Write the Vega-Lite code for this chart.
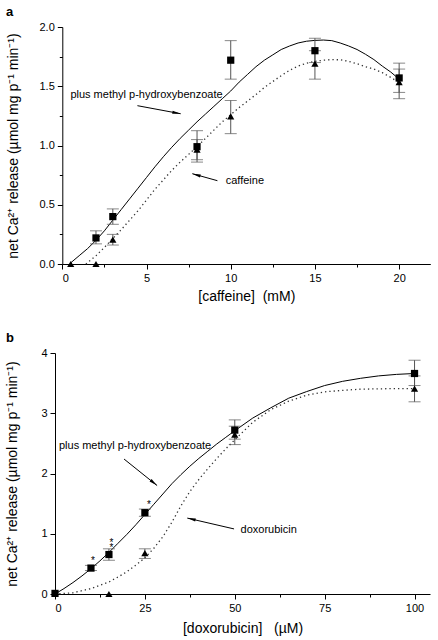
{
  "$schema": "https://vega.github.io/schema/vega-lite/v6.json",
  "background": "white",
  "padding": {"left": 5, "top": 6, "right": 4, "bottom": 4},
  "spacing": 29,
  "config": {
    "view": {"stroke": null},
    "font": "Liberation Sans",
    "axis": {
      "domainColor": "black", "tickColor": "black", "labelColor": "black", "titleColor": "black",
      "labelFont": "Liberation Sans", "titleFont": "Liberation Sans",
      "labelFontSize": 11, "titleFontSize": 14, "titleFontWeight": "normal",
      "grid": false, "labelPadding": 3, "tickSize": 5, "domainWidth": 1, "tickWidth": 1
    },
    "title": {"font": "Liberation Sans", "color": "black"}
  },
  "datasets": {
    "a_pts": [
      {"x": 0.5, "y": 0, "s": "drug"},
      {"x": 2, "y": 0, "s": "drug"},
      {"x": 3, "y": 0.205, "lo": 0.16, "hi": 0.25, "s": "drug"},
      {"x": 8, "y": 0.965, "lo": 0.88, "hi": 1.05, "s": "drug"},
      {"x": 10, "y": 1.245, "lo": 1.10, "hi": 1.38, "s": "drug"},
      {"x": 15, "y": 1.69, "lo": 1.56, "hi": 1.80, "s": "drug"},
      {"x": 20, "y": 1.535, "lo": 1.395, "hi": 1.645, "s": "drug"},
      {"x": 2, "y": 0.22, "lo": 0.17, "hi": 0.28, "s": "plus"},
      {"x": 3, "y": 0.40, "lo": 0.335, "hi": 0.465, "s": "plus"},
      {"x": 8, "y": 0.99, "lo": 0.86, "hi": 1.125, "s": "plus"},
      {"x": 10, "y": 1.72, "lo": 1.56, "hi": 1.885, "s": "plus"},
      {"x": 15, "y": 1.80, "lo": 1.70, "hi": 1.905, "s": "plus"},
      {"x": 20, "y": 1.57, "lo": 1.448, "hi": 1.695, "s": "plus"}
    ],
    "a_sol": [
      {"x": 0.5, "y": 0.01}, {"x": 1, "y": 0.07}, {"x": 1.5, "y": 0.13}, {"x": 2, "y": 0.2},
      {"x": 2.5, "y": 0.28}, {"x": 3, "y": 0.37}, {"x": 3.5, "y": 0.46}, {"x": 4, "y": 0.55},
      {"x": 4.5, "y": 0.64}, {"x": 5, "y": 0.73}, {"x": 5.5, "y": 0.82}, {"x": 6, "y": 0.905},
      {"x": 6.5, "y": 0.985}, {"x": 7, "y": 1.06}, {"x": 7.5, "y": 1.13}, {"x": 8, "y": 1.2},
      {"x": 8.5, "y": 1.265}, {"x": 9, "y": 1.33}, {"x": 9.5, "y": 1.395}, {"x": 10, "y": 1.46},
      {"x": 10.5, "y": 1.535}, {"x": 11, "y": 1.6}, {"x": 11.5, "y": 1.665}, {"x": 12, "y": 1.72},
      {"x": 12.5, "y": 1.765}, {"x": 13, "y": 1.81}, {"x": 13.5, "y": 1.84}, {"x": 14, "y": 1.865},
      {"x": 14.5, "y": 1.88}, {"x": 15, "y": 1.887}, {"x": 15.5, "y": 1.89}, {"x": 16, "y": 1.885},
      {"x": 16.5, "y": 1.865}, {"x": 17, "y": 1.84}, {"x": 17.5, "y": 1.81}, {"x": 18, "y": 1.77},
      {"x": 18.5, "y": 1.725}, {"x": 19, "y": 1.67}, {"x": 19.5, "y": 1.62}, {"x": 20, "y": 1.56}
    ],
    "a_dot": [
      {"x": 1.4, "y": 0.0}, {"x": 2, "y": 0.07}, {"x": 2.5, "y": 0.14}, {"x": 3, "y": 0.215},
      {"x": 3.5, "y": 0.29}, {"x": 4, "y": 0.37}, {"x": 4.5, "y": 0.45}, {"x": 5, "y": 0.54},
      {"x": 5.5, "y": 0.63}, {"x": 6, "y": 0.71}, {"x": 6.5, "y": 0.79}, {"x": 7, "y": 0.86},
      {"x": 7.5, "y": 0.925}, {"x": 8, "y": 0.99}, {"x": 8.5, "y": 1.06}, {"x": 9, "y": 1.13},
      {"x": 9.5, "y": 1.2}, {"x": 10, "y": 1.26}, {"x": 10.5, "y": 1.32}, {"x": 11, "y": 1.375},
      {"x": 11.5, "y": 1.43}, {"x": 12, "y": 1.49}, {"x": 12.5, "y": 1.54}, {"x": 13, "y": 1.59},
      {"x": 13.5, "y": 1.635}, {"x": 14, "y": 1.67}, {"x": 14.5, "y": 1.695}, {"x": 15, "y": 1.71},
      {"x": 15.5, "y": 1.72}, {"x": 16, "y": 1.725}, {"x": 16.5, "y": 1.723}, {"x": 17, "y": 1.71},
      {"x": 17.5, "y": 1.69}, {"x": 18, "y": 1.665}, {"x": 18.5, "y": 1.645}, {"x": 19, "y": 1.615},
      {"x": 19.5, "y": 1.575}, {"x": 20, "y": 1.53}
    ],
    "a_txt": [
      {"x": 0.48, "y": 1.43, "t": "plus methyl p-hydroxybenzoate"},
      {"x": 9.7, "y": 0.70, "t": "caffeine"}
    ],
    "a_arr": [
      {"id": "plus", "x": 4.46, "y": 1.336, "x2": 7.03, "y2": 1.268},
      {"id": "drug", "x": 9.21, "y": 0.703, "x2": 7.72, "y2": 0.762}
    ],
    "b_pts": [
      {"x": 15, "y": 0, "s": "drug"},
      {"x": 25, "y": 0.68, "lo": 0.59, "hi": 0.75, "s": "drug"},
      {"x": 50, "y": 2.645, "lo": 2.48, "hi": 2.785, "s": "drug"},
      {"x": 100, "y": 3.41, "lo": 3.19, "hi": 3.62, "s": "drug"},
      {"x": 0, "y": 0.01, "s": "plus"},
      {"x": 10, "y": 0.43, "lo": 0.39, "hi": 0.475, "s": "plus"},
      {"x": 15, "y": 0.655, "lo": 0.56, "hi": 0.75, "s": "plus"},
      {"x": 25, "y": 1.35, "lo": 1.29, "hi": 1.41, "s": "plus"},
      {"x": 50, "y": 2.72, "lo": 2.57, "hi": 2.89, "s": "plus"},
      {"x": 100, "y": 3.66, "lo": 3.46, "hi": 3.88, "s": "plus"}
    ],
    "b_sol": [
      {"x": 0, "y": 0}, {"x": 2.5, "y": 0.09}, {"x": 5, "y": 0.19}, {"x": 7.5, "y": 0.3},
      {"x": 10, "y": 0.42}, {"x": 12.5, "y": 0.55}, {"x": 15, "y": 0.69}, {"x": 17.5, "y": 0.84},
      {"x": 20, "y": 0.99}, {"x": 22.5, "y": 1.15}, {"x": 25, "y": 1.32}, {"x": 27.5, "y": 1.49},
      {"x": 30, "y": 1.66}, {"x": 32.5, "y": 1.83}, {"x": 35, "y": 1.98}, {"x": 37.5, "y": 2.12},
      {"x": 40, "y": 2.25}, {"x": 42.5, "y": 2.37}, {"x": 45, "y": 2.49}, {"x": 47.5, "y": 2.6},
      {"x": 50, "y": 2.71}, {"x": 55, "y": 2.92}, {"x": 60, "y": 3.09}, {"x": 65, "y": 3.25},
      {"x": 70, "y": 3.36}, {"x": 75, "y": 3.46}, {"x": 80, "y": 3.53}, {"x": 85, "y": 3.58},
      {"x": 90, "y": 3.62}, {"x": 95, "y": 3.645}, {"x": 100, "y": 3.66}
    ],
    "b_dot": [
      {"x": 0, "y": 0}, {"x": 5, "y": 0.02}, {"x": 10, "y": 0.09}, {"x": 15, "y": 0.2},
      {"x": 17.5, "y": 0.28}, {"x": 20, "y": 0.37}, {"x": 22.5, "y": 0.48}, {"x": 25, "y": 0.6},
      {"x": 27.5, "y": 0.76}, {"x": 30, "y": 0.95}, {"x": 32.5, "y": 1.19}, {"x": 35, "y": 1.46},
      {"x": 37.5, "y": 1.7}, {"x": 40, "y": 1.9}, {"x": 42.5, "y": 2.08}, {"x": 45, "y": 2.25},
      {"x": 47.5, "y": 2.41}, {"x": 50, "y": 2.56}, {"x": 55, "y": 2.85}, {"x": 60, "y": 3.06},
      {"x": 65, "y": 3.2}, {"x": 70, "y": 3.3}, {"x": 75, "y": 3.355}, {"x": 80, "y": 3.38},
      {"x": 85, "y": 3.4}, {"x": 90, "y": 3.405}, {"x": 95, "y": 3.41}, {"x": 100, "y": 3.41}
    ],
    "b_txt": [
      {"x": 1.1, "y": 2.45, "t": "plus methyl p-hydroxybenzoate"},
      {"x": 51.6, "y": 1.07, "t": "doxorubicin"}
    ],
    "b_arr": [
      {"id": "plus", "x": 19.2, "y": 2.24, "x2": 28.4, "y2": 1.80},
      {"id": "drug", "x": 49.8, "y": 1.08, "x2": 36.8, "y2": 1.26}
    ],
    "b_star": [
      {"x": 10.56, "y": 0.49, "t": "*"},
      {"x": 15.7, "y": 0.8, "t": "*\n*"},
      {"x": 26.1, "y": 1.425, "t": "*"}
    ]
  },
  "vconcat": [
    {
      "title": {"text": "a", "anchor": "start", "frame": "bounds", "fontSize": 13, "fontWeight": "bold", "offset": 2},
      "width": 375,
      "height": 237,
      "encoding": {
        "x": {
          "field": "x", "type": "quantitative",
          "scale": {"domain": [0, 21.85], "range": [7.3, 375.3], "nice": false, "zero": false},
          "axis": {
            "title": "[caffeine]\u00a0\u00a0(mM)",
            "values": [0, 2.5, 5, 7.5, 10, 12.5, 15, 17.5, 20],
            "labelExpr": "datum.value % 5 == 0 ? datum.label : ''",
            "tickSize": {"condition": {"test": "datum.value % 5 != 0", "value": 3}, "value": 5},
            "titlePadding": 6
          }
        },
        "y": {
          "field": "y", "type": "quantitative",
          "scale": {"domain": [0, 2], "nice": false},
          "axis": {
            "title": "net Ca²⁺ release (µmol mg p⁻¹ min⁻¹)",
            "values": [0, 0.25, 0.5, 0.75, 1, 1.25, 1.5, 1.75, 2],
            "format": ".1f",
            "offset": -7.3,
            "labelExpr": "datum.value % 0.5 == 0 ? datum.label : ''",
            "tickSize": {"condition": {"test": "datum.value % 0.5 != 0", "value": 3}, "value": 5},
            "titlePadding": 19
          }
        }
      },
      "layer": [
        {"data": {"name": "a_dot"}, "mark": {"type": "line", "stroke": "#333", "strokeWidth": 1.3, "strokeDash": [1.3, 3]}},
        {"data": {"name": "a_sol"}, "mark": {"type": "line", "stroke": "black", "strokeWidth": 1}},
        {"data": {"name": "a_pts"}, "transform": [{"filter": "isValid(datum.lo)"}],
         "mark": {"type": "rule", "stroke": "#555", "strokeWidth": 1},
         "encoding": {"y": {"field": "lo", "type": "quantitative"}, "y2": {"field": "hi"}}},
        {"data": {"name": "a_pts"}, "transform": [{"filter": "isValid(datum.lo)"}],
         "mark": {"type": "tick", "orient": "horizontal", "size": 12, "thickness": 1, "color": "#555"},
         "encoding": {"y": {"field": "lo", "type": "quantitative"}}},
        {"data": {"name": "a_pts"}, "transform": [{"filter": "isValid(datum.lo)"}],
         "mark": {"type": "tick", "orient": "horizontal", "size": 12, "thickness": 1, "color": "#555"},
         "encoding": {"y": {"field": "hi", "type": "quantitative"}}},
        {"data": {"name": "a_pts"},
         "mark": {"type": "point", "filled": true, "color": "black", "opacity": 1, "size": 52},
         "encoding": {"shape": {"field": "s", "type": "nominal", "scale": {"domain": ["plus", "drug"], "range": ["square", "triangle-up"]}, "legend": null}}},
        {"data": {"name": "a_txt"},
         "mark": {"type": "text", "align": "left", "baseline": "middle", "fontSize": 11, "font": "Liberation Sans", "color": "black"},
         "encoding": {"text": {"field": "t"}}},
        {"data": {"name": "a_arr"},
         "mark": {"type": "rule", "stroke": "black", "strokeWidth": 1},
         "encoding": {"x2": {"field": "x2"}, "y2": {"field": "y2"}}},
        {"data": {"name": "a_arr"}, "transform": [{"filter": "datum.id == 'plus'"}],
         "mark": {"type": "point", "shape": "M0,0L0.45,2.4L-0.45,2.4Z", "filled": true, "color": "black", "opacity": 1, "size": 49, "angle": 100},
         "encoding": {"x": {"field": "x2", "type": "quantitative"}, "y": {"field": "y2", "type": "quantitative"}}},
        {"data": {"name": "a_arr"}, "transform": [{"filter": "datum.id == 'drug'"}],
         "mark": {"type": "point", "shape": "M0,0L0.45,2.4L-0.45,2.4Z", "filled": true, "color": "black", "opacity": 1, "size": 49, "angle": 286},
         "encoding": {"x": {"field": "x2", "type": "quantitative"}, "y": {"field": "y2", "type": "quantitative"}}}
      ]
    },
    {
      "title": {"text": "b", "anchor": "start", "frame": "bounds", "fontSize": 13, "fontWeight": "bold", "offset": 2},
      "width": 375,
      "height": 241,
      "encoding": {
        "x": {
          "field": "x", "type": "quantitative",
          "scale": {"domain": [0, 104.3], "nice": false, "zero": false},
          "axis": {
            "title": "[doxorubicin]\u00a0\u00a0\u00a0(µM)",
            "values": [0, 12.5, 25, 37.5, 50, 62.5, 75, 87.5, 100],
            "labelExpr": "datum.value % 25 == 0 ? datum.label : ''",
            "tickSize": {"condition": {"test": "datum.value % 25 != 0", "value": 3}, "value": 5},
            "titlePadding": 8
          }
        },
        "y": {
          "field": "y", "type": "quantitative",
          "scale": {"domain": [0, 4], "nice": false},
          "axis": {
            "title": "net Ca²⁺ release (µmol mg p⁻¹ min⁻¹)",
            "values": [0, 0.5, 1, 1.5, 2, 2.5, 3, 3.5, 4],
            "format": "d",
            "labelExpr": "datum.value % 1 == 0 ? datum.label : ''",
            "tickSize": {"condition": {"test": "datum.value % 1 != 0", "value": 3}, "value": 5},
            "titlePadding": 21
          }
        }
      },
      "layer": [
        {"data": {"name": "b_dot"}, "mark": {"type": "line", "stroke": "#333", "strokeWidth": 1.3, "strokeDash": [1.3, 3]}},
        {"data": {"name": "b_sol"}, "mark": {"type": "line", "stroke": "black", "strokeWidth": 1}},
        {"data": {"name": "b_pts"}, "transform": [{"filter": "isValid(datum.lo)"}],
         "mark": {"type": "rule", "stroke": "#555", "strokeWidth": 1},
         "encoding": {"y": {"field": "lo", "type": "quantitative"}, "y2": {"field": "hi"}}},
        {"data": {"name": "b_pts"}, "transform": [{"filter": "isValid(datum.lo)"}],
         "mark": {"type": "tick", "orient": "horizontal", "size": 12, "thickness": 1, "color": "#555"},
         "encoding": {"y": {"field": "lo", "type": "quantitative"}}},
        {"data": {"name": "b_pts"}, "transform": [{"filter": "isValid(datum.lo)"}],
         "mark": {"type": "tick", "orient": "horizontal", "size": 12, "thickness": 1, "color": "#555"},
         "encoding": {"y": {"field": "hi", "type": "quantitative"}}},
        {"data": {"name": "b_pts"},
         "mark": {"type": "point", "filled": true, "color": "black", "opacity": 1, "size": 52},
         "encoding": {"shape": {"field": "s", "type": "nominal", "scale": {"domain": ["plus", "drug"], "range": ["square", "triangle-up"]}, "legend": null}}},
        {"data": {"name": "b_txt"},
         "mark": {"type": "text", "align": "left", "baseline": "middle", "fontSize": 11, "font": "Liberation Sans", "color": "black"},
         "encoding": {"text": {"field": "t"}}},
        {"data": {"name": "b_star"},
         "mark": {"type": "text", "align": "center", "baseline": "alphabetic", "fontSize": 10, "font": "Liberation Sans", "color": "black", "lineBreak": "\n", "lineHeight": 5},
         "encoding": {"text": {"field": "t"}}},
        {"data": {"name": "b_arr"},
         "mark": {"type": "rule", "stroke": "black", "strokeWidth": 1},
         "encoding": {"x2": {"field": "x2"}, "y2": {"field": "y2"}}},
        {"data": {"name": "b_arr"}, "transform": [{"filter": "datum.id == 'plus'"}],
         "mark": {"type": "point", "shape": "M0,0L0.45,2.4L-0.45,2.4Z", "filled": true, "color": "black", "opacity": 1, "size": 49, "angle": 129},
         "encoding": {"x": {"field": "x2", "type": "quantitative"}, "y": {"field": "y2", "type": "quantitative"}}},
        {"data": {"name": "b_arr"}, "transform": [{"filter": "datum.id == 'drug'"}],
         "mark": {"type": "point", "shape": "M0,0L0.45,2.4L-0.45,2.4Z", "filled": true, "color": "black", "opacity": 1, "size": 49, "angle": 283},
         "encoding": {"x": {"field": "x2", "type": "quantitative"}, "y": {"field": "y2", "type": "quantitative"}}}
      ]
    }
  ]
}
